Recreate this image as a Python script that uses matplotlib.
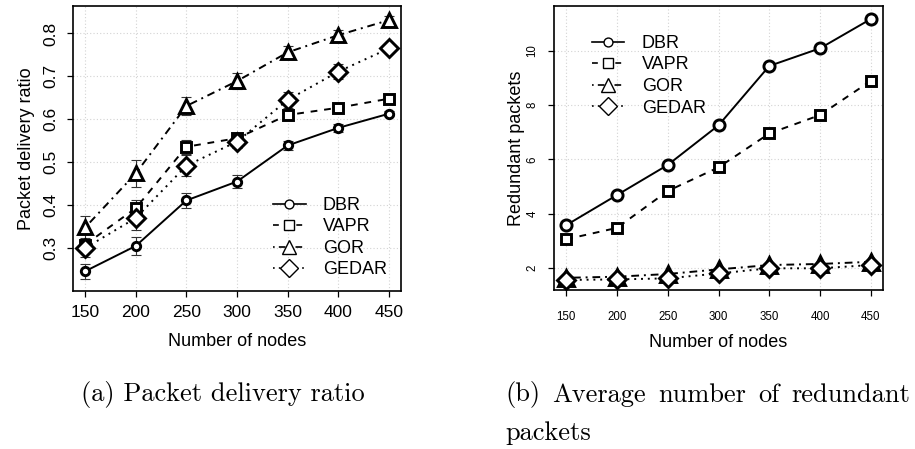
import matplotlib
matplotlib.use("Agg")
import matplotlib.pyplot as plt

# data
nodes = [150, 200, 250, 300, 350, 400, 450]

pdr_dbr = [0.246, 0.305, 0.411, 0.455, 0.539, 0.580, 0.613]
pdr_vapr = [0.308, 0.393, 0.536, 0.556, 0.610, 0.627, 0.648]
pdr_gor = [0.348, 0.474, 0.631, 0.689, 0.756, 0.796, 0.831]
pdr_gedar = [0.300, 0.370, 0.492, 0.548, 0.645, 0.711, 0.765]

err_dbr = [0.017, 0.020, 0.017, 0.016, 0.010, 0.009, 0.006]
err_vapr = [0.015, 0.020, 0.016, 0.012, 0.008, 0.006, 0.005]
err_gor = [0.026, 0.032, 0.020, 0.018, 0.015, 0.012, 0.010]
err_gedar = [0.021, 0.027, 0.025, 0.015, 0.018, 0.017, 0.008]

red_dbr = [3.57, 4.68, 5.79, 7.25, 9.44, 10.09, 11.17]
red_vapr = [3.05, 3.47, 4.83, 5.70, 6.95, 7.63, 8.89]
red_gor = [1.63, 1.67, 1.77, 1.94, 2.10, 2.14, 2.22]
red_gedar = [1.55, 1.57, 1.61, 1.79, 1.98, 1.98, 2.10]

names = ["DBR", "VAPR", "GOR", "GEDAR"]
styles = ["-", (0, (3.5, 3.5)), (0, (1, 2.5, 4, 2.5)), (0, (1, 2.5))]
marks = ["o", "s", "^", "D"]
msize_l = [6, 7, 10, 9]
msize_r = [8, 7, 11, 9]

plt.rcParams['font.family'] = ['Liberation Sans', 'DejaVu Sans']

fig = plt.figure(figsize=(9.15, 4.49), dpi=100)
W, H = 915, 449
ax1 = fig.add_axes([73 / W, 1 - 291 / H, 328 / W, 285 / H])
ax2 = fig.add_axes([554 / W, 1 - 290 / H, 329 / W, 284 / H])

pdr = [pdr_dbr, pdr_vapr, pdr_gor, pdr_gedar]
errs = [err_dbr, err_vapr, err_gor, err_gedar]
red = [red_dbr, red_vapr, red_gor, red_gedar]

for ax in (ax1, ax2):
    ax.set_xticks(nodes)
    ax.grid(True, color="#d3d3d3", linestyle=(0, (1, 2)), linewidth=0.8)
    ax.set_axisbelow(True)
    for s in ax.spines.values():
        s.set_linewidth(1.2)

handles = []
for i in range(4):
    ax1.errorbar(nodes, pdr[i], yerr=errs[i], fmt="none", ecolor="#333333",
                 elinewidth=0.8, capsize=3.5, capthick=0.8, zorder=3)
    ax1.plot(nodes, pdr[i], color="black", linestyle=styles[i], lw=1.4,
             marker=marks[i], ms=msize_l[i], mfc="white", mec="black",
             mew=2.1, zorder=4)
    ax2.plot(nodes, red[i], color="black", linestyle=styles[i], lw=1.4,
             marker=marks[i], ms=msize_r[i], mfc="white", mec="black",
             mew=2.1, zorder=4)
    h, = ax1.plot([], [], color="black", linestyle=styles[i], lw=1.2,
                  marker=marks[i], ms=msize_l[i] * 0.9 + 1, mfc="white",
                  mec="black", mew=1.0)
    handles.append(h)

ax1.set_xlim(138, 462)
ax1.set_ylim(0.2, 0.864)
ax1.set_yticks([0.3, 0.4, 0.5, 0.6, 0.7, 0.8])
ax1.set_yticklabels(["0.3", "0.4", "0.5", "0.6", "0.7", "0.8"])
ax1.tick_params(axis="both", labelsize=12.5, length=4.3, width=0.9)
ax1.tick_params(axis="x", pad=6)
ax1.tick_params(axis="y", pad=6.5)
for lab in ax1.get_yticklabels():
    lab.set_rotation(90)
    lab.set_va("center")
ax1.set_xlabel("Number of nodes", fontsize=13, labelpad=9)
ax1.set_ylabel("Packet delivery ratio", fontsize=13, labelpad=6)

ax2.set_xlim(138, 462)
ax2.set_ylim(1.18, 11.65)
ax2.set_yticks([2, 4, 6, 8, 10])
ax2.set_yticklabels(["2", "4", "6", "8", "10"])
ax2.tick_params(axis="both", labelsize=8.3, length=4.3, width=0.9)
ax2.tick_params(axis="x", pad=10.5)
ax2.tick_params(axis="y", pad=6.8)
for lab in ax2.get_yticklabels():
    lab.set_rotation(90)
    lab.set_va("center")
ax2.set_xlabel("Number of nodes", fontsize=13, labelpad=8)
ax2.set_ylabel("Redundant packets", fontsize=13, labelpad=1)

leg_kw = dict(frameon=False, fontsize=13, handlelength=1.8, handletextpad=0.95,
              labelspacing=0.25, borderpad=0, borderaxespad=0, loc="upper left")
ax1.legend(handles, names, bbox_to_anchor=(0.61, 0.33), **leg_kw)
ax2.legend(handles, names, bbox_to_anchor=(0.1155, 0.898), **leg_kw)

cap = dict(family="cmr10", fontsize=19, va="center")
fig.text(223 / W, 1 - 395 / H, "(a) Packet delivery ratio", ha="center", **cap)

# justified first line of caption (b)
words = ["(b)", "Average", "number", "of", "redundant"]
x_left, x_right = 505, 910
renderer = fig.canvas.get_renderer()
objs = [fig.text(0, 1 - 395 / H, w, ha="left", **cap) for w in words]
widths = [t.get_window_extent(renderer).width for t in objs]
gap = (x_right - x_left - sum(widths)) / (len(words) - 1)
x = x_left
for t, w in zip(objs, widths):
    t.set_x(x / W)
    x += w + gap
fig.text(505 / W, 1 - 433 / H, "packets", ha="left", **cap)

fig.savefig("out.png", dpi=100)
